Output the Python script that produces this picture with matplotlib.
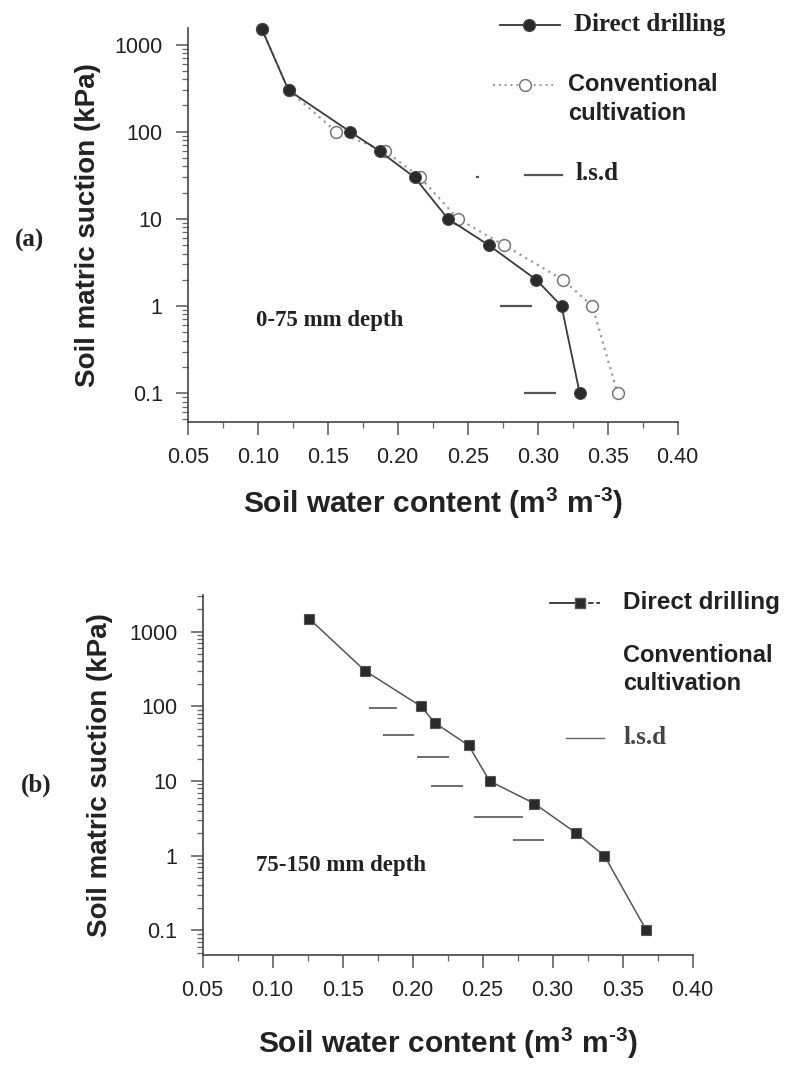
import matplotlib
matplotlib.use("Agg")
import matplotlib.pyplot as plt
from matplotlib.lines import Line2D
from matplotlib.ticker import LogLocator, FixedLocator, NullFormatter, FuncFormatter

ARIAL = "Liberation Sans"
TIMES = "Liberation Serif"

# 0-75 mm
suction_a = [1500, 300, 100, 60, 30, 10, 5, 2, 1, 0.1]
dd_a = [0.103, 0.122, 0.166, 0.187, 0.212, 0.236, 0.265, 0.299, 0.317, 0.330]
cc_a = [0.103, 0.122, 0.156, 0.191, 0.216, 0.243, 0.276, 0.318, 0.339, 0.357]
lsd_a_y = [30, 1, 0.1]
lsd_a_lo = [0.256, 0.273, 0.290]
lsd_a_hi = [0.258, 0.296, 0.313]

# 75-150 mm
suction_b = [1500, 300, 100, 60, 30, 10, 5, 2, 1, 0.1]
dd_b = [0.126, 0.166, 0.206, 0.216, 0.240, 0.255, 0.287, 0.317, 0.337, 0.367]
lsd_b_y = [95, 42, 21, 8.6, 3.3, 1.6]
lsd_b_lo = [0.169, 0.179, 0.203, 0.213, 0.244, 0.272]
lsd_b_hi = [0.189, 0.201, 0.226, 0.236, 0.279, 0.294]

xticks = [0.05, 0.10, 0.15, 0.20, 0.25, 0.30, 0.35, 0.40]
ytick_vals = [0.1, 1, 10, 100, 1000]
ytick_text = ["0.1", "1", "10", "100", "1000"]

W, H = 798, 1065
fig = plt.figure(figsize=(W / 100, H / 100), dpi=100)

plt.rcParams["mathtext.fontset"] = "custom"
plt.rcParams["mathtext.bf"] = "Liberation Sans:bold"
plt.rcParams["mathtext.rm"] = "Liberation Sans:bold"
plt.rcParams["axes.unicode_minus"] = False

# short hyphen in the exponent, as in the printed label
XLABEL = "Soil water content (m$^{\\mathbf{3}}$ m$^{\\mathbf{\u20103}}$)"


def px_axes(left, top, right, bottom):
    return fig.add_axes([left / W, 1 - bottom / H, (right - left) / W, (bottom - top) / H])


def style_axis(ax, ylim, xlab_y, ylab_x):
    ax.set_yscale("log")
    ax.set_xlim(0.05, 0.40)
    ax.set_ylim(*ylim)
    for s in ["top", "right"]:
        ax.spines[s].set_visible(False)
    for s in ["left", "bottom"]:
        ax.spines[s].set_color("#444444")
        ax.spines[s].set_linewidth(1.2)
    ax.xaxis.set_major_locator(FixedLocator(xticks))
    ax.set_xticklabels(["%.2f" % v for v in xticks])
    ax.xaxis.set_minor_locator(FixedLocator([v + 0.025 for v in xticks[:-1]]))
    ax.yaxis.set_major_locator(FixedLocator(ytick_vals))
    ax.yaxis.set_major_formatter(FuncFormatter(lambda v, p: ytick_text[ytick_vals.index(v)] if v in ytick_vals else ""))
    ax.yaxis.set_minor_locator(LogLocator(base=10, subs=range(2, 10), numticks=20))
    ax.yaxis.set_minor_formatter(NullFormatter())
    ax.tick_params(which="major", direction="out", length=9, width=1.1, color="#555555",
                   labelsize=15.5, pad=9, labelcolor="#222222")
    ax.tick_params(which="minor", direction="out", length=4.5, width=0.9, color="#666666")
    for t in ax.get_xticklabels() + ax.get_yticklabels():
        t.set_fontfamily(ARIAL)
    ax.set_xlabel(XLABEL, fontsize=21.5, fontweight="bold", family=ARIAL, color="#222222")
    ax.xaxis.label.set_va("center")
    ax.xaxis.set_label_coords(0.5, xlab_y)
    ax.set_ylabel("Soil matric suction (kPa)", fontsize=20, fontweight="bold",
                  family=ARIAL, color="#222222")
    ax.yaxis.label.set_va("center")
    ax.yaxis.set_label_coords(ylab_x, 0.5)


# ---- panel (a) ----
A_L, A_T, A_R, A_B = 187.7, 28, 677.7, 421.7
ax1 = px_axes(A_L, A_T, A_R, A_B)
style_axis(ax1, (0.047, 1550), -(503 - A_B) / (A_B - A_T), (88 - A_L) / (A_R - A_L))

ax1.plot(cc_a, suction_a, linestyle=(0, (1, 2)), color="#9a9a9a", lw=1.6,
         marker="o", ms=8.5, mfc="white", mec="#777777", mew=1.1, clip_on=False, zorder=3)
ax1.plot(dd_a, suction_a, "-", color="#3a3a3a", lw=1.3,
         marker="o", ms=8.5, mfc="#2a2a2a", mec="#444444", mew=0.8, clip_on=False, zorder=4)
ax1.hlines(lsd_a_y, lsd_a_lo, lsd_a_hi, color="#555555", lw=1.6)
ax1.text(0.099, 0.68, "0-75 mm depth", family=TIMES, fontweight="bold", fontsize=16.5,
         va="center", ha="left", color="#222222")

# legend keys and labels, placed in axes fractions
tr = ax1.transAxes


def ax_x(px):
    return (px - A_L) / (A_R - A_L)


def ax_y(py):
    return (A_B - py) / (A_B - A_T)


ax1.add_line(Line2D([ax_x(500), ax_x(560)], [ax_y(25)] * 2, color="#333333", lw=1.3,
                    transform=tr, clip_on=False))
ax1.add_line(Line2D([ax_x(529)], [ax_y(25)], marker="o", ms=8.5, mfc="#2a2a2a", mec="#444444",
                    transform=tr, clip_on=False))
ax1.text(ax_x(574), ax_y(25), "Direct drilling", transform=tr, family=TIMES, fontweight="bold",
         fontsize=18, va="center", ha="left", color="#222222")
ax1.add_line(Line2D([ax_x(493), ax_x(553)], [ax_y(85)] * 2, color="#9a9a9a", lw=1.4,
                    linestyle=(0, (1, 2)), transform=tr, clip_on=False))
ax1.add_line(Line2D([ax_x(525)], [ax_y(85)], marker="o", ms=8.5, mfc="white", mec="#777777",
                    mew=1.1, transform=tr, clip_on=False))
ax1.text(ax_x(568), ax_y(85), "Conventional", transform=tr, family=ARIAL, fontweight="bold",
         fontsize=17, va="center", ha="left", color="#222222")
ax1.text(ax_x(568), ax_y(114), "cultivation", transform=tr, family=ARIAL, fontweight="bold",
         fontsize=17, va="center", ha="left", color="#222222")
ax1.add_line(Line2D([ax_x(525), ax_x(562)], [ax_y(175)] * 2, color="#555555", lw=1.6,
                    transform=tr, clip_on=False))
ax1.text(ax_x(576), ax_y(174), "l.s.d", transform=tr, family=TIMES, fontweight="bold",
         fontsize=18, va="center", ha="left", color="#222222")

fig.text(30 / W, 1 - 240 / H, "(a)", family=TIMES, fontweight="bold", fontsize=18,
         ha="center", va="center", color="#222222")

# ---- panel (b) ----
B_L, B_T, B_R, B_B = 202.6, 595, 692.6, 954.5
ax2 = px_axes(B_L, B_T, B_R, B_B)
style_axis(ax2, (0.0476, 3100), -(1043 - B_B) / (B_B - B_T), (100 - B_L) / (B_R - B_L))

ax2.plot(dd_b, suction_b, "-", color="#555555", lw=1.1,
         marker="s", ms=7.5, mfc="#2a2a2a", mec="#555555", mew=0.8, clip_on=False, zorder=4)
ax2.hlines(lsd_b_y, lsd_b_lo, lsd_b_hi, color="#555555", lw=1.2)
ax2.text(0.0885, 0.73, "75-150 mm depth", family=TIMES, fontweight="bold", fontsize=16.5,
         va="center", ha="left", color="#222222")

tr2 = ax2.transAxes


def bx_x(px):
    return (px - B_L) / (B_R - B_L)


def bx_y(py):
    return (B_B - py) / (B_B - B_T)


ax2.add_line(Line2D([bx_x(550), bx_x(580)], [bx_y(603)] * 2, color="#333333", lw=1.3,
                    transform=tr2, clip_on=False))
ax2.add_line(Line2D([bx_x(580), bx_x(600)], [bx_y(603)] * 2, color="#333333", lw=1.3,
                    linestyle=(0, (3, 1.5)), transform=tr2, clip_on=False))
ax2.add_line(Line2D([bx_x(580)], [bx_y(603)], marker="s", ms=7.5, mfc="#2a2a2a", mec="#555555",
                    transform=tr2, clip_on=False))
ax2.text(bx_x(623), bx_y(603), "Direct drilling", transform=tr2, family=ARIAL, fontweight="bold",
         fontsize=17.5, va="center", ha="left", color="#222222")
ax2.text(bx_x(623), bx_y(655), "Conventional", transform=tr2, family=ARIAL, fontweight="bold",
         fontsize=17, va="center", ha="left", color="#222222")
ax2.text(bx_x(623), bx_y(683), "cultivation", transform=tr2, family=ARIAL, fontweight="bold",
         fontsize=17, va="center", ha="left", color="#222222")
ax2.add_line(Line2D([bx_x(566), bx_x(604)], [bx_y(738)] * 2, color="#666666", lw=1.0,
                    transform=tr2, clip_on=False))
ax2.text(bx_x(623), bx_y(738), "l.s.d", transform=tr2, family=TIMES, fontweight="bold",
         fontsize=18, va="center", ha="left", color="#444444")

fig.text(36 / W, 1 - 785 / H, "(b)", family=TIMES, fontweight="bold", fontsize=18,
         ha="center", va="center", color="#222222")

fig.savefig("out.png", dpi=100, facecolor="white")
